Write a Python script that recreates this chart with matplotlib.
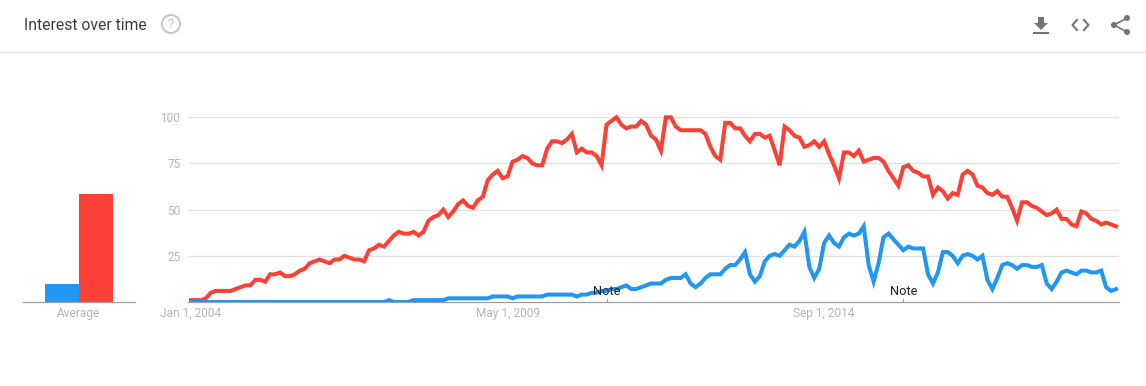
# coding: utf-8
import matplotlib
matplotlib.use('Agg')
import numpy as np
import matplotlib.pyplot as plt
from matplotlib.patches import Circle, Polygon

plt.rcParams['font.family'] = ['Roboto', 'DejaVu Sans']

W, H = 1146, 386

red = [1, 1, 1, 2, 5, 6, 6, 6, 6, 7, 8, 9, 9, 12, 12, 11, 15, 15, 16, 14,
       14, 15, 17, 18, 21, 22, 23, 22, 21, 23, 23, 25, 24, 23, 23, 22, 28, 29, 31, 30,
       33, 36, 38, 37, 37, 38, 36, 38, 44, 46, 47, 50, 46, 49, 53, 55, 52, 51, 55, 57,
       66, 69, 71, 67, 68, 76, 77, 79, 78, 75, 74, 74, 83, 87, 87, 86, 88, 91, 81, 83,
       81, 81, 79, 74, 96, 98, 100, 96, 94, 95, 95, 98, 96, 90, 88, 82, 100, 100, 95, 93,
       93, 93, 93, 93, 91, 84, 79, 77, 97, 97, 94, 94, 90, 87, 91, 91, 89, 90, 82, 74,
       95, 93, 90, 89, 84,
       85, 87, 84, 87, 80, 74, 67, 81, 81, 79, 82, 76, 77, 78, 78, 76, 71, 67, 63, 73,
       74, 71, 70, 68, 68, 58, 62, 60, 56, 59, 58, 69, 71, 69, 63, 62, 59, 58, 60, 57,
       57, 51, 44, 54, 54, 52, 51, 49, 47, 48, 50, 45, 45, 42, 41, 49, 48, 45, 44, 42,
       43, 42, 41]

blue = [0] * 40 + [1, 0, 0, 0, 0, 1, 1, 1, 1, 1, 1, 1, 2, 2, 2, 2, 2, 2, 2, 2,
        2, 3, 3, 3, 3, 2, 3, 3, 3, 3, 3, 3, 4, 4, 4, 4, 4, 4, 3, 4,
        4, 5, 5, 6, 6, 7, 7, 8, 9, 7, 7, 8, 9, 10, 10, 10, 12, 13, 13, 13,
        15, 10, 8, 10, 13, 15, 15, 15, 18, 20, 20, 23, 27, 15, 11, 14, 22, 25, 26, 25,
        28, 31, 30, 33, 38,
        19, 13, 18, 32, 36, 32, 30, 35, 37, 36, 37, 41, 20, 11, 21, 35, 37, 34, 31, 28,
        30, 29, 29, 29, 15, 10, 16, 27, 27, 25, 21, 25, 26, 25, 23, 25, 12, 7, 13, 20,
        21, 20, 18, 20, 20, 19, 19, 20, 10, 7, 11, 16, 17, 16, 15, 17, 17, 16, 16, 17,
        8, 6, 7]

avg_values = [10, 58.5]
bar_colors = ['#2196f3', '#fb4035']
line_colors = ['#2196f3', '#fb4035']

y_ticks = [25, 50, 75, 100]
x_ticks = [0, 64, 128]
x_labels = ['Jan 1, 2004', 'May 1, 2009', 'Sep 1, 2014']
notes = [84, 144]

GRID = '#e0e0e0'
AXIS = '#9e9e9e'
LABEL = '#b5b5b5'
ICON = '#757575'


def px_axes(left, top, right, bottom):
    return fig.add_axes([left / W, 1 - bottom / H, (right - left) / W, (bottom - top) / H])


fig = plt.figure(figsize=(W / 100, H / 100), dpi=100, facecolor='white')

# main chart, baseline at y=302 and 100 at y=117.3
y_top = 106
unit = (302 - 117.3) / 100
ax = px_axes(188, 302 - y_top * unit, 1119, 302)
step = 925 / 187
ax.set_xlim(-3 / step, 187 + 3 / step)
ax.set_ylim(0, y_top)
for s in ['top', 'left', 'right']:
    ax.spines[s].set_visible(False)
ax.spines['bottom'].set_color(AXIS)
ax.spines['bottom'].set_linewidth(0.9)
ax.set_yticks(y_ticks)
ax.set_xticks(x_ticks)
ax.set_xticklabels(x_labels)
ax.tick_params(axis='both', length=0, labelcolor=LABEL, labelsize=8.6)
ax.tick_params(axis='x', pad=3.6)
ax.tick_params(axis='y', pad=5.5)
ax.hlines(y_ticks, -3 / step, 187 + 3 / step, color=GRID, lw=0.9, zorder=1)

T = np.arange(len(red))
ax.plot(T, red, color=line_colors[1], lw=2.9, solid_joinstyle='miter', zorder=3)
ax.plot(T, blue, color=line_colors[0], lw=2.9, solid_joinstyle='miter', zorder=4)

for n in notes:
    ax.plot([n, n], [0, 1.5], color=AXIS, lw=0.8, zorder=5)
    ax.text(n, 5.5, 'Note', ha='center', va='center', fontsize=9.2, color='#222222', zorder=6)

# average bars
ax2 = px_axes(23, 302 - y_top * unit, 135, 302)
ax2.set_xlim(23, 135)
ax2.set_ylim(0, y_top)
ax2.bar([62, 96], avg_values, width=34, color=bar_colors)
for s in ['top', 'left', 'right']:
    ax2.spines[s].set_visible(False)
ax2.spines['bottom'].set_color(AXIS)
ax2.spines['bottom'].set_linewidth(0.9)
ax2.set_yticks([])
ax2.set_xticks([79])
ax2.set_xticklabels(['Average'])
ax2.tick_params(axis='x', length=0, labelcolor=LABEL, labelsize=8.6, pad=3.6)

# header, drawn in pixel coordinates
top = fig.add_axes([0, 0, 1, 1], zorder=10)
top.set_xlim(0, W)
top.set_ylim(H, 0)
top.axis('off')
top.patch.set_alpha(0)
top.plot([0, W], [52, 52], color=GRID, lw=0.9)
top.text(24, 25, 'Interest over time', fontsize=11.3, color='#3c3c3c', va='center', ha='left')
top.add_patch(Circle((171, 24), 9, fill=False, ec='#c4c4c4', lw=1.4))
top.text(171, 24.5, '?', fontsize=9.5, color='#c4c4c4', ha='center', va='center')

# download icon
top.add_patch(Polygon([(1038, 17), (1044, 17), (1044, 23), (1048, 23), (1041, 30), (1034, 23), (1038, 23)],
                      closed=True, fc=ICON, ec='none'))
top.plot([1034, 1048], [33, 33], color=ICON, lw=1.5)

# code icon
top.plot([1077, 1072.5, 1077], [20, 25, 30], color=ICON, lw=1.5)
top.plot([1084, 1088.5, 1084], [20, 25, 30], color=ICON, lw=1.5)

# share icon
top.plot([1127, 1114, 1127], [18, 25, 32], color=ICON, lw=1.2)
for c in [(1127, 18), (1114, 25), (1127, 32)]:
    top.add_patch(Circle(c, 3, fc=ICON, ec='none'))

fig.savefig('out.png', dpi=100)
